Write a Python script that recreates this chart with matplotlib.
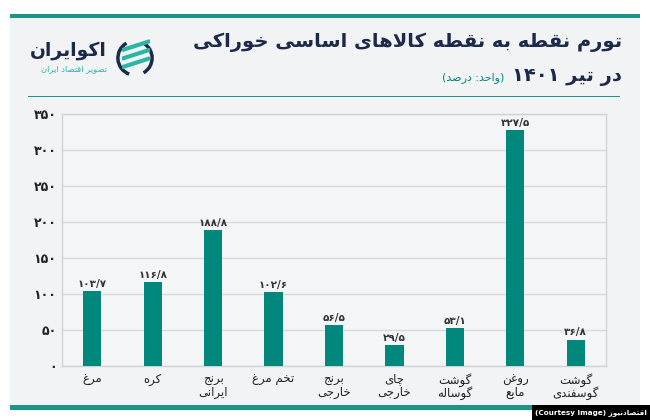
import re
import matplotlib
matplotlib.use("Agg")
import matplotlib.pyplot as plt
from matplotlib.patches import Rectangle, Arc, Polygon

# --- simple Persian shaping (matplotlib has no bidi / joining) ---
FORMS = {
    'ا': (0xFE8D, 0xFE8E), 'آ': (0xFE81, 0xFE82),
    'ب': (0xFE8F, 0xFE90, 0xFE91, 0xFE92), 'ت': (0xFE95, 0xFE96, 0xFE97, 0xFE98),
    'ج': (0xFE9D, 0xFE9E, 0xFE9F, 0xFEA0), 'ح': (0xFEA1, 0xFEA2, 0xFEA3, 0xFEA4),
    'خ': (0xFEA5, 0xFEA6, 0xFEA7, 0xFEA8), 'د': (0xFEA9, 0xFEAA),
    'ر': (0xFEAD, 0xFEAE), 'ز': (0xFEAF, 0xFEB0),
    'س': (0xFEB1, 0xFEB2, 0xFEB3, 0xFEB4), 'ش': (0xFEB5, 0xFEB6, 0xFEB7, 0xFEB8),
    'ص': (0xFEB9, 0xFEBA, 0xFEBB, 0xFEBC), 'ط': (0xFEC1, 0xFEC2, 0xFEC3, 0xFEC4),
    'ع': (0xFEC9, 0xFECA, 0xFECB, 0xFECC), 'غ': (0xFECD, 0xFECE, 0xFECF, 0xFED0),
    'ف': (0xFED1, 0xFED2, 0xFED3, 0xFED4), 'ق': (0xFED5, 0xFED6, 0xFED7, 0xFED8),
    'ل': (0xFEDD, 0xFEDE, 0xFEDF, 0xFEE0), 'م': (0xFEE1, 0xFEE2, 0xFEE3, 0xFEE4),
    'ن': (0xFEE5, 0xFEE6, 0xFEE7, 0xFEE8), 'ه': (0xFEE9, 0xFEEA, 0xFEEB, 0xFEEC),
    'و': (0xFEED, 0xFEEE), 'پ': (0xFB56, 0xFB57, 0xFB58, 0xFB59),
    'چ': (0xFB7A, 0xFB7B, 0xFB7C, 0xFB7D), 'ژ': (0xFB8A, 0xFB8B),
    'ک': (0xFB8E, 0xFB8F, 0xFB90, 0xFB91), 'گ': (0xFB92, 0xFB93, 0xFB94, 0xFB95),
    'ی': (0xFBFC, 0xFBFD, 0xFBFE, 0xFBFF),
}
MIRROR = {'(': ')', ')': '('}


def shape(s):
    out = []
    i = 0
    while i < len(s):
        c = s[i]
        prev = s[i - 1] if i > 0 else ''
        nxt = s[i + 1] if i + 1 < len(s) else ''
        join_prev = prev in FORMS and len(FORMS[prev]) == 4
        if c == 'ل' and nxt == 'ا':
            out.append(chr(0xFEFC if join_prev else 0xFEFB))
            i += 2
            continue
        if c not in FORMS:
            out.append(c)
            i += 1
            continue
        f = FORMS[c]
        join_next = len(f) == 4 and nxt in FORMS
        if join_prev and join_next:
            out.append(chr(f[3]))
        elif join_prev:
            out.append(chr(f[1]))
        elif join_next:
            out.append(chr(f[2]))
        else:
            out.append(chr(f[0]))
        i += 1
    return ''.join(out)


def fa(s):
    lines = []
    for line in s.split('\n'):
        shaped = shape(line)
        runs = re.findall(r'[0-9۰-۹/.]+|[^0-9۰-۹/.]+', shaped)
        vis = ''
        for run in reversed(runs):
            if re.match(r'[0-9۰-۹]', run):
                vis += run
            else:
                vis += ''.join(MIRROR.get(ch, ch) for ch in run[::-1])
        lines.append(vis)
    return '\n'.join(lines)


def fa_num(v, dec=True):
    digits = '۰۱۲۳۴۵۶۷۸۹'
    s = f"{v:.1f}".replace('.', '/') if dec else f"{int(v)}"
    return ''.join(digits[int(ch)] if ch.isdigit() else ch for ch in s)


# Data
categories = ['مرغ', 'کره', 'برنج\nایرانی', 'تخم مرغ', 'برنج\nخارجی',
              'چای\nخارجی', 'گوشت\nگوساله', 'روغن\nمایع', 'گوشت\nگوسفندی']
values = [103.7, 116.8, 188.8, 102.6, 56.5, 29.5, 53.1, 327.5, 36.8]
yticks = [0, 50, 100, 150, 200, 250, 300, 350]

title1 = 'تورم نقطه به نقطه کالاهای اساسی خوراکی'
title2 = 'در تیر ۱۴۰۱'
unit = '(واحد: درصد)'

teal = '#00887d'
navy = '#1c2a4a'

plt.rcParams['font.family'] = 'DejaVu Sans'

fig = plt.figure(figsize=(6.5, 4.2), dpi=100)
fig.patch.set_facecolor('white')

W, H = 650, 420


def fx(x):
    return x / W


def fy(y):
    return 1 - y / H


def rect(x0, y0, w, h, color, z):
    fig.patches.append(Rectangle((fx(x0), fy(y0 + h)), w / W, h / H, transform=fig.transFigure,
                                 facecolor=color, edgecolor='none', zorder=z))


# card background and teal rules
rect(10, 14, 630, 395, '#f2f3f4', -10)
rect(10, 13.5, 630, 4.5, '#1a9588', -5)
rect(10, 405, 630, 4.5, '#1a9588', -5)
rect(28, 95.5, 592, 1.5, '#1a9588', -5)

# titles
fig.text(fx(622), fy(42), fa(title1), ha='right', va='center', fontsize=14,
         fontweight='bold', color=navy)
t2 = fig.text(fx(622), fy(77), fa(title2), ha='right', va='center', fontsize=14,
              fontweight='bold', color=navy)
fig.canvas.draw()
bb = t2.get_window_extent()
fig.text((bb.x0 - 8) / W, fy(78), fa(unit), ha='right', va='center', fontsize=8, color=teal)

# logo
fig.text(fx(107), fy(50), fa('اکوایران'), ha='right', va='center', fontsize=13.5,
         fontweight='bold', color=navy)
fig.text(fx(107), fy(69), fa('تصویر اقتصاد ایران'), ha='right', va='center', fontsize=6,
         color='#2bb5a5')
rect(110.5, 40, 0.8, 32, '#9aa3ad', 1)
logo_ax = fig.add_axes([fx(116), fy(78), fx(38), 40 / H])
logo_ax.set_xlim(-1, 1)
logo_ax.set_ylim(-1, 1)
logo_ax.set_aspect('equal')
logo_ax.axis('off')
logo_ax.add_patch(Arc((0, 0), 1.8, 1.8, theta1=120, theta2=250, color=navy, lw=2.5))
logo_ax.add_patch(Arc((0, 0), 1.8, 1.8, theta1=300, theta2=420, color=navy, lw=2.5))
for k in range(3):
    dy = 0.45 - k * 0.45
    logo_ax.add_patch(Polygon([(-0.65, dy - 0.1), (0.75, dy + 0.35), (0.75, dy + 0.5),
                               (-0.65, dy + 0.05)], closed=True, color='#2bb5a5'))

# main chart
ax = fig.add_axes([fx(62), fy(366), fx(544), 252 / H])
ax.set_facecolor('#f4f5f6')
x = range(len(values))
bars = ax.bar(x, values, width=0.3, color=teal, zorder=3)
for xi, v in zip(x, values):
    ax.text(xi, v + 3, fa_num(v), ha='center', va='bottom', fontsize=7.5,
            fontweight='bold', color='#333333')

ax.set_xlim(-0.5, len(values) - 0.5)
ax.set_ylim(0, 350)
ax.set_yticks(yticks)
ax.set_yticklabels([fa_num(t, dec=False) for t in yticks], fontsize=9,
                   fontweight='bold', color='#222222')
ax.set_xticks(list(x))
ax.set_xticklabels([fa(c) for c in categories], fontsize=8.5, color='#222222',
                   linespacing=0.95, va='top')
ax.tick_params(axis='x', length=0, pad=5)
ax.tick_params(axis='y', length=0, pad=4)
ax.grid(axis='y', color='#d6d9dc', lw=1, zorder=0)
for s in ax.spines.values():
    s.set_color('#cfd3d7')
    s.set_linewidth(1)

# courtesy tag
rect(532, 405, 118, 15, 'black', 5)
ct = fig.text(fx(647), fy(412.5), '(Courtesy Image) ' + fa('اقتصادنیوز'), ha='right',
              va='center', fontsize=6.5, fontweight='bold', color='white', zorder=6)
fig.canvas.draw()
cw = ct.get_window_extent().width
if cw > 112:
    ct.set_fontsize(6.5 * 112 / cw)

fig.savefig('out.png', dpi=100)
